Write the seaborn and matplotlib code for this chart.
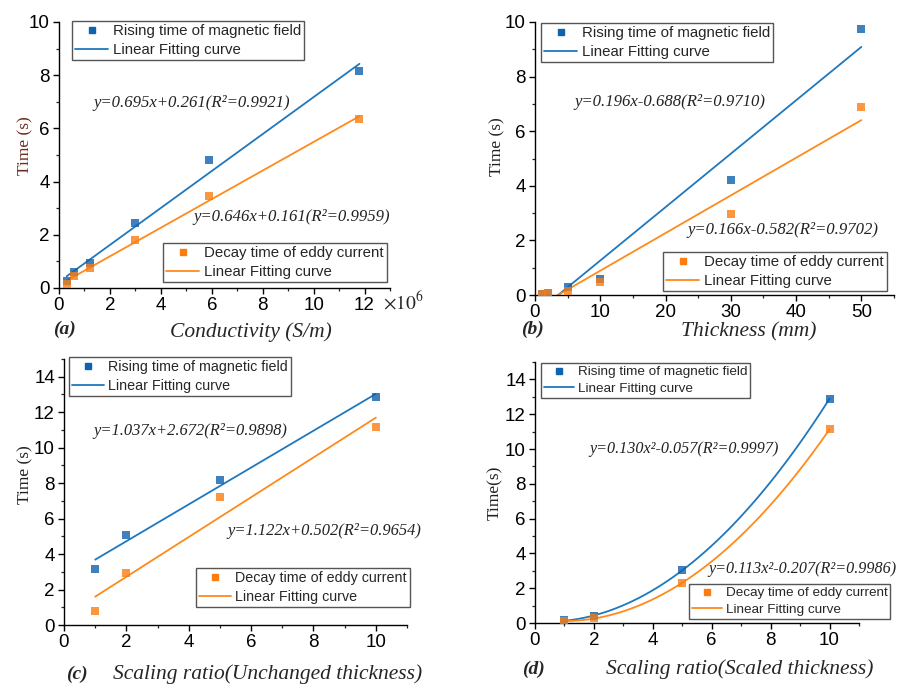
import numpy as np
import pandas as pd
import matplotlib
matplotlib.use("Agg")
import matplotlib.pyplot as plt
from matplotlib.ticker import MultipleLocator
from matplotlib.lines import Line2D
import seaborn as sns

# ---------------- data ----------------
# (a) conductivity (x1e6 S/m)
cond_x = [0.3, 0.6, 1.2, 3.0, 5.9, 11.8]
cond_rise = [0.25, 0.59, 0.94, 2.46, 4.81, 8.17]
cond_decay = [0.16, 0.44, 0.75, 1.79, 3.44, 6.37]
# (b) thickness (mm)
thick_x = [1, 2, 5, 10, 30, 50]
thick_rise = [0.04, 0.08, 0.30, 0.60, 4.23, 9.76]
thick_decay = [0.03, 0.06, 0.16, 0.49, 2.95, 6.89]
# (c) scaling ratio, unchanged thickness
scaleU_x = [1, 2, 5, 10]
scaleU_rise = [3.18, 5.08, 8.18, 12.84]
scaleU_decay = [0.79, 2.93, 7.20, 11.17]
# (d) scaling ratio, scaled thickness
scaleS_x = [1, 2, 5, 10]
scaleS_rise = [0.15, 0.40, 3.04, 12.89]
scaleS_decay = [0.10, 0.27, 2.31, 11.13]

rise_label = "Rising time of magnetic field"
decay_label = "Decay time of eddy current"
fit_label = "Linear Fitting curve"

equations = [
    ("y=0.695x+0.261(R²=0.9921)", "y=0.646x+0.161(R²=0.9959)"),
    ("y=0.196x-0.688(R²=0.9710)", "y=0.166x-0.582(R²=0.9702)"),
    ("y=1.037x+2.672(R²=0.9898)", "y=1.122x+0.502(R²=0.9654)"),
    ("y=0.130x²-0.057(R²=0.9997)", "y=0.113x²-0.207(R²=0.9986)"),
]
xlabels = ["Conductivity (S/m)", "Thickness (mm)",
           "Scaling ratio(Unchanged thickness)", "Scaling ratio(Scaled thickness)"]
ylabels = ["Time (s)", "Time (s)", "Time (s)", "Time(s)"]
panel_labels = ["(a)", "(b)", "(c)", "(d)"]

# ---------------- style ----------------
sns.set_style("ticks")
plt.rcParams["font.family"] = ["Liberation Sans", "DejaVu Sans"]
plt.rcParams["mathtext.fontset"] = "stix"

BLUE_M = "#0f62ad"
BLUE_L = "#1f78bd"
ORANGE_M = "#fb7d12"
ORANGE_L = "#ff8a1c"
SERIF = ["Liberation Serif", "DejaVu Serif"]

W, H = 904, 684
fig = plt.figure(figsize=(W / 100, H / 100), dpi=100)


def fx(px):
    return px / W


def fy(py):
    return 1 - py / H


def add_axes(l, t, r, b):
    return fig.add_axes([fx(l), fy(b), fx(r) - fx(l), (b - t) / H])


panels = [
    dict(box=(59, 22, 390, 288), x=cond_x, r=cond_rise, d=cond_decay, order=1,
         xlim=(0, 13), ylim=(0, 10), xmaj=2, xmin=1, ymaj=2, ymin=1),
    dict(box=(535, 22, 894, 295), x=thick_x, r=thick_rise, d=thick_decay, order=1,
         xlim=(0, 55), ylim=(0, 10), xmaj=10, xmin=5, ymaj=2, ymin=1),
    dict(box=(64, 359, 407, 625), x=scaleU_x, r=scaleU_rise, d=scaleU_decay, order=1,
         xlim=(0, 11), ylim=(0, 15), xmaj=2, xmin=1, ymaj=2, ymin=1),
    dict(box=(535, 362, 859, 623), x=scaleS_x, r=scaleS_rise, d=scaleS_decay, order=2,
         xlim=(0, 11), ylim=(0, 15), xmaj=2, xmin=1, ymaj=2, ymin=1),
]

# legend anchors (upper-left corners in px)
leg_top = [(72, 21), (541, 23), (69, 357), (541, 363)]
leg_bot = [(163, 243), (663, 252), (196, 568), (689, 584)]
leg_fs = [10.8, 10.8, 10.3, 9.7]
eq_pos = [((93, 103), (193, 217)), ((574, 102), (687, 230)),
          ((93, 431), (227, 531)), ((589, 449), (708, 569))]
eq_fs = [12.1, 12.1, 11.9, 11.6]
xlab_pos = [(251, 332), (749, 332), (268, 674), (740, 669)]
plab_pos = [(64, 329), (532, 329), (77, 674), (533, 669)]
ylab_pos = [(25, 146), (497, 147), (25, 475), (495, 493)]
ylab_colors = ["#6e2c1c", "#222222", "#222222", "#222222"]

MS = 30

for i, p in enumerate(panels):
    ax = add_axes(*p["box"])
    df = pd.DataFrame({"x": p["x"], "rise": p["r"], "decay": p["d"]})
    sns.regplot(data=df, x="x", y="rise", ax=ax, ci=None, order=p["order"],
                marker="s", truncate=True,
                scatter_kws=dict(s=MS, color=BLUE_M, linewidths=0, zorder=3),
                line_kws=dict(color=BLUE_L, lw=1.3))
    sns.regplot(data=df, x="x", y="decay", ax=ax, ci=None, order=p["order"],
                marker="s", truncate=True,
                scatter_kws=dict(s=MS, color=ORANGE_M, linewidths=0, zorder=3),
                line_kws=dict(color=ORANGE_L, lw=1.3))
    ax.set_xlim(*p["xlim"])
    ax.set_ylim(*p["ylim"])
    ax.xaxis.set_major_locator(MultipleLocator(p["xmaj"]))
    ax.xaxis.set_minor_locator(MultipleLocator(p["xmin"]))
    ax.yaxis.set_major_locator(MultipleLocator(p["ymaj"]))
    ax.yaxis.set_minor_locator(MultipleLocator(p["ymin"]))
    ax.set_xlabel("")
    ax.set_ylabel("")
    for s in ["top", "right"]:
        ax.spines[s].set_visible(False)
    for s in ["left", "bottom"]:
        ax.spines[s].set_linewidth(1.0)
        ax.spines[s].set_color("black")
    ax.tick_params(which="major", direction="out", length=4, width=1.0,
                   labelsize=13.5, pad=2.5, colors="black")
    ax.tick_params(which="minor", direction="out", length=2.5, width=0.9)
    ax.set_facecolor("white")

    h_rise = [Line2D([], [], ls="none", marker="s", ms=4.5, mfc=BLUE_M, mec=BLUE_M),
              Line2D([], [], color=BLUE_L, lw=1.3)]
    h_decay = [Line2D([], [], ls="none", marker="s", ms=4.5, mfc=ORANGE_M, mec=ORANGE_M),
               Line2D([], [], color=ORANGE_L, lw=1.3)]
    lg_kw = dict(loc="upper left", bbox_transform=fig.transFigure, fancybox=False,
                 frameon=True, edgecolor="#555555", framealpha=1,
                 prop=dict(family="Liberation Sans", size=leg_fs[i]),
                 handlelength=2.2, handletextpad=0.3, labelspacing=0.32,
                 borderpad=0.2, borderaxespad=0, borderpad_=None) if False else dict(
                 loc="upper left", bbox_transform=fig.transFigure, fancybox=False,
                 frameon=True, edgecolor="#555555", framealpha=1,
                 prop=dict(family="Liberation Sans", size=leg_fs[i]),
                 handlelength=2.2, handletextpad=0.3, labelspacing=0.32,
                 borderpad=0.22, borderaxespad=0)
    lg1 = ax.legend(h_rise, [rise_label, fit_label],
                    bbox_to_anchor=(fx(leg_top[i][0]), fy(leg_top[i][1])), **lg_kw)
    lg1.get_frame().set_linewidth(1.0)
    ax.add_artist(lg1)
    lg2 = ax.legend(h_decay, [decay_label, fit_label],
                    bbox_to_anchor=(fx(leg_bot[i][0]), fy(leg_bot[i][1])), **lg_kw)
    lg2.get_frame().set_linewidth(1.0)

    (e1x, e1y), (e2x, e2y) = eq_pos[i]
    fig.text(fx(e1x), fy(e1y), equations[i][0], family=SERIF, style="italic",
             fontsize=eq_fs[i], ha="left", va="center", color="#222222")
    fig.text(fx(e2x), fy(e2y), equations[i][1], family=SERIF, style="italic",
             fontsize=eq_fs[i], ha="left", va="center", color="#222222")

    fig.text(fx(xlab_pos[i][0]), fy(xlab_pos[i][1]), xlabels[i], family=SERIF,
             style="italic", fontsize=15.5, ha="center", va="center")
    fig.text(fx(plab_pos[i][0]), fy(plab_pos[i][1]), panel_labels[i], family=SERIF,
             style="italic", weight="bold", fontsize=14, ha="center", va="center")
    fig.text(fx(ylab_pos[i][0]), fy(ylab_pos[i][1]), ylabels[i], family=SERIF,
             fontsize=12.5, rotation=90, ha="center", va="center",
             color=ylab_colors[i])

fig.text(fx(383), fy(302), r"$\times10^{6}$", fontsize=14, ha="left", va="center")

fig.savefig("out.png", dpi=100, facecolor="white")
